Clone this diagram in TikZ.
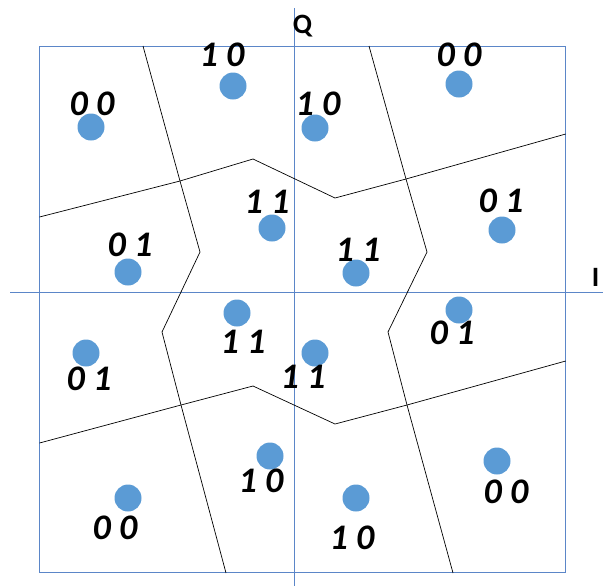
\documentclass[tikz,border=0pt]{standalone}
\usepackage{fontspec}
\setmainfont{Carlito}
\definecolor{dotblue}{HTML}{5B9BD5}
\definecolor{axblue}{HTML}{5B86C8}
\begin{document}
\begin{tikzpicture}[x=1pt,y=-1pt,
  axis/.style={draw=axblue, line width=0.8pt},
  frame/.style={draw=axblue, line width=0.8pt},
  boundary/.style={draw=black, line width=0.7pt, line join=round},
  dot/.style={circle, fill=dotblue, inner sep=0pt, minimum size=27pt},
  bits/.style={font=\fontsize{36}{36}\selectfont\bfseries\itshape, inner sep=0pt},
  axlabel/.style={font=\fontsize{28}{28}\selectfont\bfseries, inner sep=0pt}]
\useasboundingbox (0,0) rectangle (604,587);
% frame
\coordinate (nw) at (39.5,46);
\coordinate (se) at (565.7,572.7);
\draw[frame] (nw) rectangle (se);
% axes
\coordinate (qtop) at (294,8);
\coordinate (qbot) at (294,586);
\coordinate (ileft) at (10,292);
\coordinate (iright) at (603,292);
\draw[axis] (qtop) -- (qbot);
\draw[axis] (ileft) -- (iright);
\node[axlabel, anchor=base] (Q) at (302.5,33) {Q};
\node[axlabel, anchor=base] (I) at (595.5,286) {I};
% decision boundaries
\draw[boundary] (143,46) -- (180,181) -- (200,252) -- (162,332) -- (181,405) -- (226,573);
\draw[boundary] (369,46) -- (406,179) -- (427,252) -- (388,332) -- (407,405) -- (453,573);
\draw[boundary] (39.5,217) -- (180,181) -- (253,159) -- (335,198) -- (406,179) -- (565.7,134);
\draw[boundary] (39.5,443) -- (181,405) -- (253,386) -- (335,424) -- (407,405) -- (565.7,361);
% points
\node[dot] (d1) at (233,86) {};
\node[dot] (d2) at (91,127) {};
\node[dot] (d3) at (315,128) {};
\node[dot] (d4) at (459,84) {};
\node[dot] (d5) at (272,228) {};
\node[dot] (d6) at (128,272) {};
\node[dot] (d7) at (502,230) {};
\node[dot] (d8) at (356,273) {};
\node[dot] (d9) at (237,313) {};
\node[dot] (d10) at (86,353) {};
\node[dot] (d11) at (315,353) {};
\node[dot] (d12) at (459,310) {};
\node[dot] (d13) at (270,456) {};
\node[dot] (d14) at (128,498) {};
\node[dot] (d15) at (356,498) {};
\node[dot] (d16) at (497,461) {};
% labels
\node[bits] (l1) at (222,55) {1 0};
\node[bits] (l2) at (92,104) {0 0};
\node[bits] (l3) at (318,104) {1 0};
\node[bits] (l4) at (459,55) {0 0};
\node[bits] (l5) at (267,202) {1 1};
\node[bits] (l6) at (130,245) {0 1};
\node[bits] (l7) at (501,201) {0 1};
\node[bits] (l8) at (358,250) {1 1};
\node[bits] (l9) at (243,342) {1 1};
\node[bits] (l10) at (89,379) {0 1};
\node[bits] (l11) at (303,377) {1 1};
\node[bits] (l12) at (452,333) {0 1};
\node[bits] (l13) at (261,481) {1 0};
\node[bits] (l14) at (115,528) {0 0};
\node[bits] (l15) at (352,538) {1 0};
\node[bits] (l16) at (506,492) {0 0};
\end{tikzpicture}
\end{document}
